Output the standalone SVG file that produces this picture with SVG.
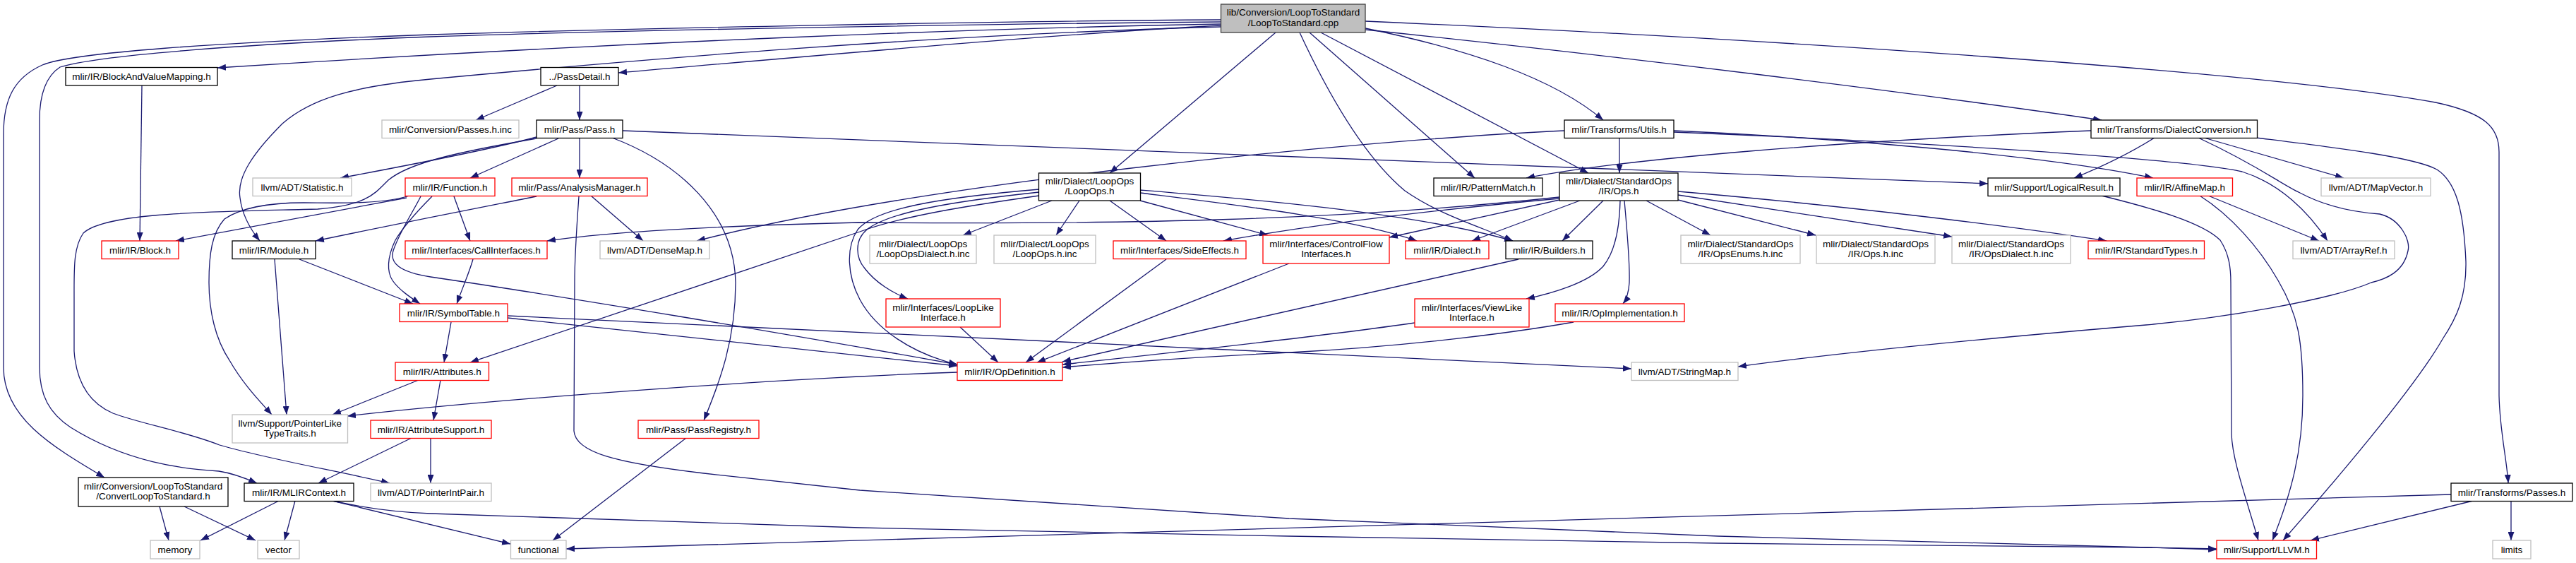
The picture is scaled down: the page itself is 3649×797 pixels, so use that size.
<svg xmlns="http://www.w3.org/2000/svg" width="3649" height="797" viewBox="0 0 3649 797">
<defs>
<marker id="a" viewBox="0 0 12 9" refX="12" refY="4.5" markerWidth="12" markerHeight="9" markerUnits="userSpaceOnUse" orient="auto"><path d="M0,0 L12,4.5 L0,9 z" fill="#191970"/></marker>
<style>
.n rect{fill:#fff;stroke:#000;stroke-width:1.3}
.r rect{stroke:#ff0000}
.g rect{stroke:#bfbfbf}
.m rect{fill:#bfbfbf;stroke:#404040}
text{font-family:"Liberation Sans",Arial,sans-serif;font-size:13.5px;text-anchor:middle;fill:#000}
.e path{fill:none;stroke:#191970;stroke-width:1.3;marker-end:url(#a)}
</style>
</defs>
<rect width="3649" height="797" fill="#fff"/>
<g id="edges" class="e">
<path d="M1729,34 C1400,40 900,58 308,96"/>
<path d="M1729,36 C1500,48 1200,75 876,103"/>
<path d="M1729,28 C1400,30 900,40 610,49 C300,60 100,75 60,92 C20,110 5,140 5,190 L5,520 C5,590 70,630 148,676"/>
<path d="M1729,31 C1400,34 900,42 610,52 C350,62 140,78 85,95 C62,110 56,140 56,170 L56,520 C56,560 70,585 100,605 C180,655 260,664 310,667 C330,670 350,678 364,684"/>
<path d="M1729,38 C1300,50 900,85 610,112 C500,122 440,140 400,175 C360,215 335,250 340,280 C343,305 355,325 368,341"/>
<path d="M1807,46 L1572,245"/>
<path d="M1855,46 L2089,252"/>
<path d="M1841,46 C1880,130 1930,220 1990,270 C2040,305 2100,322 2143,341"/>
<path d="M1871,46 L2250,245"/>
<path d="M1934,40 C2080,70 2200,110 2271,170"/>
<path d="M1934,42 C2300,80 2700,130 2977,170"/>
<path d="M1934,30 C2500,55 3200,100 3450,145 C3520,160 3540,180 3540,215 L3540,560 C3541,610 3551,650 3553,684"/>
<path d="M789,121 L674,170"/>
<path d="M821,121 L821,170"/>
<path d="M791,196 L666,252"/>
<path d="M821,196 L821,252"/>
<path d="M760,194 C700,210 600,230 482,252"/>
<path d="M760,196 C650,215 580,230 550,255 C530,275 520,290 450,296 C300,300 150,300 118,330 C104,350 105,380 105,420 L105,497 C108,540 125,570 160,585 C200,600 260,610 311,630 C380,650 470,665 552,684"/>
<path d="M867,195 C960,230 1040,300 1042,400 C1042,480 1020,540 997,595"/>
<path d="M882,185 L2816,260"/>
<path d="M201,121 L198,341"/>
<path d="M580,277 C540,290 470,287 430,287 C380,287 340,295 318,310 C300,330 296,360 296,400 C296,440 305,480 325,510 C345,545 370,570 385,587"/>
<path d="M389,367 L406,587"/>
<path d="M576,280 L249,341"/>
<path d="M612,278 C600,290 575,315 560,340 C548,365 548,385 556,397 C565,410 580,420 595,430"/>
<path d="M596,278 C585,300 565,330 557,355 C552,372 565,385 610,392 C800,420 1100,470 1356,516"/>
<path d="M643,278 L666,341"/>
<path d="M760,278 C700,290 620,305 447,341"/>
<path d="M837,277 L911,341"/>
<path d="M820,278 C817,320 814,360 814,400 L813,610 C815,640 870,655 997,670 L1218,694 L1826,734 L2434,759 L3042,775 L3140,777"/>
<path d="M670,367 C665,385 658,400 647,430"/>
<path d="M424,367 L585,430"/>
<path d="M2294,195 L2294,245"/>
<path d="M2216,185 C1900,200 1300,260 987,341"/>
<path d="M2371,185 C2600,195 2900,220 3050,252"/>
<path d="M2371,187 C2700,200 3100,225 3176,243 C3230,260 3270,300 3297,341"/>
<path d="M2962,185 C2600,200 2300,225 2162,252"/>
<path d="M3052,195 C3020,215 2980,235 2938,252"/>
<path d="M3122,195 L3320,252"/>
<path d="M3114,195 C3200,235 3230,260 3258,273 C3290,290 3330,300 3371,303 C3400,310 3415,340 3411,355 C3405,385 3380,395 3359,400 C3300,425 3150,450 3040,460 C2800,480 2600,500 2462,519"/>
<path d="M3196,195 C3300,208 3420,222 3452,240 C3480,258 3490,300 3493,370 C3494,420 3480,450 3460,480 C3420,550 3300,690 3234,765"/>
<path d="M2977,277 C3050,295 3120,315 3145,340 C3158,360 3160,380 3160,400 L3161,614 C3162,650 3180,700 3199,765"/>
<path d="M3116,277 C3160,305 3200,350 3227,397 C3255,445 3262,480 3262,560 C3262,640 3245,700 3219,765"/>
<path d="M3128,277 L3285,341"/>
<path d="M2238,284 L2085,341"/>
<path d="M2271,284 L2213,341"/>
<path d="M2332,284 L2423,333"/>
<path d="M2377,283 L2572,333"/>
<path d="M2377,276 L2765,335"/>
<path d="M2377,271 C2600,290 2850,320 2984,341"/>
<path d="M2295,284 C2294,330 2285,360 2271,377 C2250,400 2200,415 2162,423"/>
<path d="M2301,284 C2305,330 2309,370 2308,400 C2307,415 2303,425 2299,430"/>
<path d="M2209,283 L1968,336"/>
<path d="M2209,281 C2000,300 1850,320 1733,341"/>
<path d="M2209,279 C1900,312 1600,318 1216,315 C1000,320 850,330 775,341"/>
<path d="M1490,284 L1364,333"/>
<path d="M1529,284 L1496,333"/>
<path d="M1572,284 L1652,341"/>
<path d="M1615,284 L1796,333"/>
<path d="M1615,269 C1750,280 2000,300 2143,341"/>
<path d="M1615,273 C1750,290 1920,310 2007,341"/>
<path d="M1472,277 C1380,290 1280,305 1218,328 L666,513"/>
<path d="M1472,272 C1350,285 1260,300 1228,325 C1210,340 1212,365 1225,380 C1240,400 1265,415 1286,423"/>
<path d="M1472,268 C1330,280 1240,295 1215,325 C1198,350 1200,390 1218,424 C1240,465 1290,500 1356,516"/>
<path d="M2151,367 L1505,512"/>
<path d="M1652,367 L1453,513"/>
<path d="M1826,373 L1469,513"/>
<path d="M1360,463 L1414,513"/>
<path d="M2004,457 C1900,472 1700,495 1505,516"/>
<path d="M2229,456 C2150,470 2000,490 1826,499 C1700,505 1600,512 1505,520"/>
<path d="M639,456 L629,513"/>
<path d="M719,450 L1356,518"/>
<path d="M719,447 L2311,522"/>
<path d="M1356,527 C1100,536 700,565 492,589"/>
<path d="M624,538 L614,595"/>
<path d="M593,538 L471,587"/>
<path d="M583,620 L451,684"/>
<path d="M610,620 L610,684"/>
<path d="M972,620 L783,765"/>
<path d="M226,717 L239,765"/>
<path d="M261,717 L362,765"/>
<path d="M395,709 L284,765"/>
<path d="M418,709 L403,765"/>
<path d="M471,709 L723,770"/>
<path d="M471,709 C520,720 560,725 610,727 L1218,747 L1826,759 L2434,769 L3042,775 L3140,778"/>
<path d="M3472,700 L802,777"/>
<path d="M3503,709 L3273,765"/>
<path d="M3557,709 L3557,765"/>
</g>
<g id="main" class="n m"><rect x="1729.5" y="6" width="204.5" height="40"/><text x="1832" y="22">lib/Conversion/LoopToStandard</text><text x="1832" y="36.5">/LoopToStandard.cpp</text></g>
<g id="bavm" class="n"><rect x="93" y="95.5" width="215" height="25.5"/><text x="200.5" y="113">mlir/IR/BlockAndValueMapping.h</text></g>
<g id="passdetail" class="n"><rect x="766" y="95.5" width="110" height="25.5"/><text x="821" y="113">../PassDetail.h</text></g>
<g id="passesinc" class="n g"><rect x="541" y="170" width="194" height="25.5"/><text x="638" y="187.5">mlir/Conversion/Passes.h.inc</text></g>
<g id="pass" class="n"><rect x="760" y="170" width="122" height="25.5"/><text x="821" y="187.5">mlir/Pass/Pass.h</text></g>
<g id="utils" class="n"><rect x="2216" y="170" width="155" height="25.5"/><text x="2293.5" y="187.5">mlir/Transforms/Utils.h</text></g>
<g id="dialectconversion" class="n"><rect x="2962" y="170" width="235.5" height="25.5"/><text x="3079.75" y="187.5">mlir/Transforms/DialectConversion.h</text></g>
<g id="statistic" class="n g"><rect x="358" y="252" width="140" height="25.5"/><text x="428" y="269.5">llvm/ADT/Statistic.h</text></g>
<g id="function" class="n r"><rect x="574" y="252" width="127" height="25.5"/><text x="637.5" y="269.5">mlir/IR/Function.h</text></g>
<g id="analysismanager" class="n r"><rect x="725" y="252" width="192" height="25.5"/><text x="821" y="269.5">mlir/Pass/AnalysisManager.h</text></g>
<g id="loopops" class="n"><rect x="1471.5" y="245" width="144" height="39"/><text x="1543.5" y="261">mlir/Dialect/LoopOps</text><text x="1543.5" y="275">/LoopOps.h</text></g>
<g id="patternmatch" class="n"><rect x="2031" y="252" width="154" height="25.5"/><text x="2108" y="269.5">mlir/IR/PatternMatch.h</text></g>
<g id="stdops" class="n"><rect x="2209" y="245" width="168" height="39"/><text x="2293" y="261">mlir/Dialect/StandardOps</text><text x="2293" y="275">/IR/Ops.h</text></g>
<g id="logicalresult" class="n"><rect x="2816" y="252" width="187" height="25.5"/><text x="2909.5" y="269.5">mlir/Support/LogicalResult.h</text></g>
<g id="affinemap" class="n r"><rect x="3027" y="252" width="135.5" height="25.5"/><text x="3094.75" y="269.5">mlir/IR/AffineMap.h</text></g>
<g id="mapvector" class="n g"><rect x="3288" y="252" width="155" height="25.5"/><text x="3365.5" y="269.5">llvm/ADT/MapVector.h</text></g>
<g id="block" class="n r"><rect x="144" y="341" width="109" height="25.5"/><text x="198.5" y="358.5">mlir/IR/Block.h</text></g>
<g id="module" class="n"><rect x="329" y="341" width="118" height="25.5"/><text x="388" y="358.5">mlir/IR/Module.h</text></g>
<g id="callinterfaces" class="n r"><rect x="574" y="341" width="201" height="25.5"/><text x="674.5" y="358.5">mlir/Interfaces/CallInterfaces.h</text></g>
<g id="densemap" class="n g"><rect x="850" y="341" width="155" height="25.5"/><text x="927.5" y="358.5">llvm/ADT/DenseMap.h</text></g>
<g id="loopopsdialect" class="n g"><rect x="1232" y="333" width="151" height="40"/><text x="1307.5" y="349.5">mlir/Dialect/LoopOps</text><text x="1307.5" y="363.5">/LoopOpsDialect.h.inc</text></g>
<g id="loopopsinc" class="n g"><rect x="1408" y="333" width="144" height="40"/><text x="1480" y="349.5">mlir/Dialect/LoopOps</text><text x="1480" y="363.5">/LoopOps.h.inc</text></g>
<g id="sideeffects" class="n r"><rect x="1577" y="341" width="188" height="25.5"/><text x="1671" y="358.5">mlir/Interfaces/SideEffects.h</text></g>
<g id="controlflow" class="n r"><rect x="1789" y="333" width="179" height="40"/><text x="1878.5" y="349.5">mlir/Interfaces/ControlFlow</text><text x="1878.5" y="363.5">Interfaces.h</text></g>
<g id="dialect" class="n r"><rect x="1991" y="341" width="118" height="25.5"/><text x="2050" y="358.5">mlir/IR/Dialect.h</text></g>
<g id="builders" class="n"><rect x="2133" y="341" width="123" height="25.5"/><text x="2194.5" y="358.5">mlir/IR/Builders.h</text></g>
<g id="opsenums" class="n g"><rect x="2381" y="333" width="169" height="40"/><text x="2465.5" y="349.5">mlir/Dialect/StandardOps</text><text x="2465.5" y="363.5">/IR/OpsEnums.h.inc</text></g>
<g id="opsinc" class="n g"><rect x="2573" y="333" width="168" height="40"/><text x="2657" y="349.5">mlir/Dialect/StandardOps</text><text x="2657" y="363.5">/IR/Ops.h.inc</text></g>
<g id="opsdialect" class="n g"><rect x="2765" y="333" width="168" height="40"/><text x="2849" y="349.5">mlir/Dialect/StandardOps</text><text x="2849" y="363.5">/IR/OpsDialect.h.inc</text></g>
<g id="standardtypes" class="n r"><rect x="2958" y="341" width="164.5" height="25.5"/><text x="3040.25" y="358.5">mlir/IR/StandardTypes.h</text></g>
<g id="arrayref" class="n g"><rect x="3248" y="341" width="144" height="25.5"/><text x="3320" y="358.5">llvm/ADT/ArrayRef.h</text></g>
<g id="symboltable" class="n r"><rect x="566" y="430" width="153" height="25.5"/><text x="642.5" y="447.5">mlir/IR/SymbolTable.h</text></g>
<g id="looplike" class="n r"><rect x="1255" y="423" width="162" height="40"/><text x="1336" y="439.5">mlir/Interfaces/LoopLike</text><text x="1336" y="453.5">Interface.h</text></g>
<g id="viewlike" class="n r"><rect x="2004" y="423" width="162" height="40"/><text x="2085" y="439.5">mlir/Interfaces/ViewLike</text><text x="2085" y="453.5">Interface.h</text></g>
<g id="opimplementation" class="n r"><rect x="2203" y="430" width="183" height="25.5"/><text x="2294.5" y="447.5">mlir/IR/OpImplementation.h</text></g>
<g id="attributes" class="n r"><rect x="560" y="513" width="132.5" height="25.5"/><text x="626.25" y="530.5">mlir/IR/Attributes.h</text></g>
<g id="opdefinition" class="n r"><rect x="1356" y="513" width="149" height="25.5"/><text x="1430.5" y="530.5">mlir/IR/OpDefinition.h</text></g>
<g id="stringmap" class="n g"><rect x="2311" y="513" width="151" height="25.5"/><text x="2386.5" y="530.5">llvm/ADT/StringMap.h</text></g>
<g id="pointerliketypetraits" class="n g"><rect x="329" y="587" width="163.5" height="40"/><text x="410.75" y="603.5">llvm/Support/PointerLike</text><text x="410.75" y="617.5">TypeTraits.h</text></g>
<g id="attributesupport" class="n r"><rect x="525" y="595" width="171" height="25.5"/><text x="610.5" y="612.5">mlir/IR/AttributeSupport.h</text></g>
<g id="passregistry" class="n r"><rect x="904" y="595" width="171" height="25.5"/><text x="989.5" y="612.5">mlir/Pass/PassRegistry.h</text></g>
<g id="convertlooptostandard" class="n"><rect x="111" y="676" width="212" height="41"/><text x="217" y="692.5">mlir/Conversion/LoopToStandard</text><text x="217" y="706.5">/ConvertLoopToStandard.h</text></g>
<g id="mlircontext" class="n"><rect x="346" y="684" width="155" height="25.5"/><text x="423.5" y="701.5">mlir/IR/MLIRContext.h</text></g>
<g id="pointerintpair" class="n g"><rect x="525" y="684" width="171" height="25.5"/><text x="610.5" y="701.5">llvm/ADT/PointerIntPair.h</text></g>
<g id="transformspasses" class="n"><rect x="3472" y="684" width="172" height="25.5"/><text x="3558" y="701.5">mlir/Transforms/Passes.h</text></g>
<g id="memory" class="n g"><rect x="213" y="765" width="70" height="26"/><text x="248" y="782.5">memory</text></g>
<g id="vector" class="n g"><rect x="365" y="765" width="59" height="26"/><text x="394.5" y="782.5">vector</text></g>
<g id="functional" class="n g"><rect x="723.5" y="765" width="78.5" height="26"/><text x="762.75" y="782.5">functional</text></g>
<g id="llvm" class="n r"><rect x="3140" y="765" width="141.5" height="26"/><text x="3210.75" y="782.5">mlir/Support/LLVM.h</text></g>
<g id="limits" class="n g"><rect x="3531" y="765" width="54" height="26"/><text x="3558" y="782.5">limits</text></g>
</svg>
